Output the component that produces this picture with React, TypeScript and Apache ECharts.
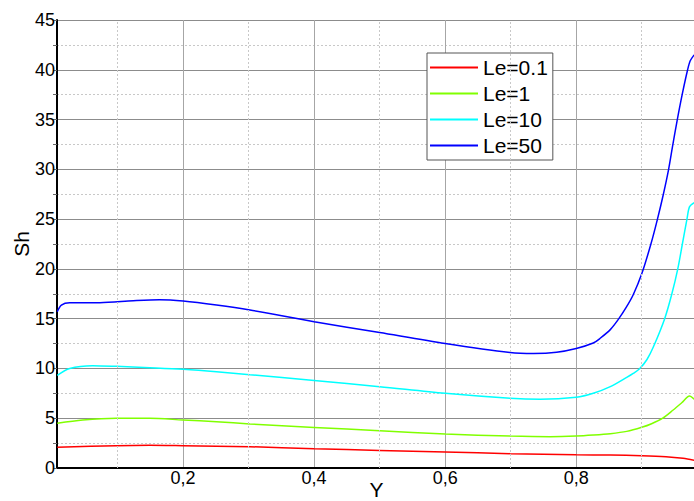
import React, { useEffect, useRef } from "react";
import * as echarts from "echarts";

const le01X = [0.008, 0.098, 0.149, 0.2, 0.302, 0.4, 0.5, 0.6, 0.699, 0.8, 0.852, 0.9, 0.937, 0.963, 0.98];
const le01Y = [2.08, 2.24, 2.28, 2.24, 2.14, 1.94, 1.77, 1.61, 1.44, 1.32, 1.3, 1.24, 1.14, 0.97, 0.77];

const le1X = [0.008, 0.047, 0.098, 0.149, 0.2, 0.251, 0.302, 0.4, 0.5, 0.6, 0.699, 0.76, 0.8, 0.826, 0.852, 0.877, 0.9, 0.915, 0.932, 0.948, 0.961, 0.973, 0.98];
const le1Y = [4.49, 4.82, 4.99, 4.99, 4.82, 4.65, 4.42, 4.08, 3.75, 3.41, 3.21, 3.15, 3.21, 3.31, 3.45, 3.68, 4.09, 4.45, 5.0, 5.83, 6.55, 7.23, 6.9];

const le10X = [0.008, 0.027, 0.062, 0.098, 0.149, 0.2, 0.251, 0.302, 0.4, 0.5, 0.6, 0.699, 0.745, 0.8, 0.826, 0.852, 0.877, 0.887, 0.897, 0.908, 0.918, 0.935, 0.946, 0.955, 0.962, 0.969, 0.973, 0.98];
const le10Y = [9.3, 10.0, 10.28, 10.21, 10.07, 9.91, 9.67, 9.37, 8.8, 8.17, 7.5, 7.0, 6.9, 7.1, 7.5, 8.17, 9.1, 9.5, 10.0, 10.9, 12.2, 15.0, 17.5, 20.0, 22.5, 25.0, 26.25, 26.65];

const le50X = [0.008, 0.0143, 0.027, 0.073, 0.124, 0.164, 0.2, 0.251, 0.302, 0.4, 0.5, 0.6, 0.699, 0.735, 0.77, 0.8, 0.826, 0.836, 0.852, 0.864, 0.876, 0.887, 0.9, 0.914, 0.924, 0.933, 0.941, 0.947, 0.954, 0.962, 0.97, 0.974, 0.98];
const le50Y = [15.7, 16.37, 16.6, 16.6, 16.8, 16.9, 16.77, 16.37, 15.87, 14.7, 13.6, 12.5, 11.6, 11.5, 11.62, 12.0, 12.55, 13.0, 13.9, 14.9, 16.1, 17.4, 19.5, 22.5, 25.0, 27.5, 30.0, 32.3, 34.9, 37.6, 40.0, 40.9, 41.5];

const seriesNames = ["Le=0.1", "Le=1", "Le=10", "Le=50"];
const seriesColors = ["#ff0000", "#80ff00", "#00ffff", "#0000ff"];
const seriesX = [le01X, le1X, le10X, le50X];
const seriesY = [le01Y, le1Y, le10Y, le50Y];

const xMinorGrid = [0.1, 0.3, 0.5, 0.7, 0.9];

const FONT = "'Liberation Sans', Arial, sans-serif";

export default function App() {
  const ref = useRef<HTMLDivElement>(null);

  useEffect(() => {
    if (!ref.current) return;
    const chart = echarts.init(ref.current, null, { renderer: "svg" });

    const lines = seriesNames.map((name, i) => ({
      name,
      type: "line",
      data: seriesX[i].map((x, j) => [x, seriesY[i][j]]),
      symbol: "none",
      smooth: 0.3,
      color: seriesColors[i],
      lineStyle: { color: seriesColors[i], width: 1.5 },
      itemStyle: { color: seriesColors[i] },
      z: 3,
    }));

    chart.setOption({
      animation: false,
      backgroundColor: "#ffffff",
      textStyle: { fontFamily: FONT },
      grid: {
        left: 57,
        right: -2,
        top: 20,
        bottom: 33,
        containLabel: false,
        outerBoundsMode: "none",
      },
      legend: {
        data: seriesNames.map((n, i) => ({
          name: n,
          icon: "rect",
          itemStyle: { color: seriesColors[i], borderWidth: 0, opacity: 1 },
        })),
        orient: "vertical",
        left: 427,
        top: 53,
        padding: [4, 5, 4, 3],
        itemGap: 5,
        itemWidth: 48,
        itemHeight: 2,
        backgroundColor: "#ffffff",
        borderColor: "#555555",
        borderWidth: 1,
        textStyle: { fontSize: 21, color: "#000", fontFamily: FONT },
      },
      xAxis: {
        type: "value",
        min: 0.0076,
        max: 0.9828,
        splitNumber: 5,
        minInterval: 0.2,
        maxInterval: 0.2,
        name: "Y",
        nameLocation: "middle",
        nameGap: 11,
        nameMoveOverlap: false,
        nameTextStyle: { fontSize: 21, color: "#000", fontFamily: FONT },
        axisLine: { lineStyle: { color: "#000", width: 2 } },
        axisTick: { show: false },
        axisLabel: {
          fontSize: 18,
          color: "#000",
          margin: 1,
          fontFamily: FONT,
          showMinLabel: false,
          showMaxLabel: false,
          formatter: (v: number) => v.toFixed(1).replace(".", ","),
        },
        splitLine: { show: true, lineStyle: { color: "#a6a6a6", width: 1 } },
      },
      yAxis: {
        type: "value",
        min: 0,
        max: 45,
        interval: 5,
        name: "Sh",
        nameLocation: "middle",
        nameGap: 25,
        nameMoveOverlap: false,
        nameTextStyle: { fontSize: 21, color: "#000", fontFamily: FONT },
        axisLine: { show: true, lineStyle: { color: "#000", width: 2 } },
        axisTick: { show: true, length: 4, lineStyle: { color: "#666" } },
        minorTick: { show: true, splitNumber: 2, length: 4, lineStyle: { color: "#666" } },
        axisLabel: { fontSize: 18, color: "#000", margin: 2, fontFamily: FONT },
        splitLine: { show: true, lineStyle: { color: "#8c8c8c", width: 1 } },
        minorSplitLine: { show: true, lineStyle: { color: "#c8c8c8", width: 1, type: [2, 2] } },
      },
      series: [
        {
          name: "grid-minor-x",
          type: "line",
          data: [],
          z: 1,
          silent: true,
          markLine: {
            silent: true,
            symbol: ["none", "none"],
            label: { show: false },
            animation: false,
            lineStyle: { color: "#c8c8c8", width: 1, type: [2, 2] },
            data: xMinorGrid.map((v) => ({ xAxis: v })),
          },
        },
        ...lines,
      ],
    });

    return () => chart.dispose();
  }, []);

  return (
    <div
      ref={ref}
      style={{ position: "fixed", left: 0, top: 0, width: 694, height: 501 }}
    />
  );
}
